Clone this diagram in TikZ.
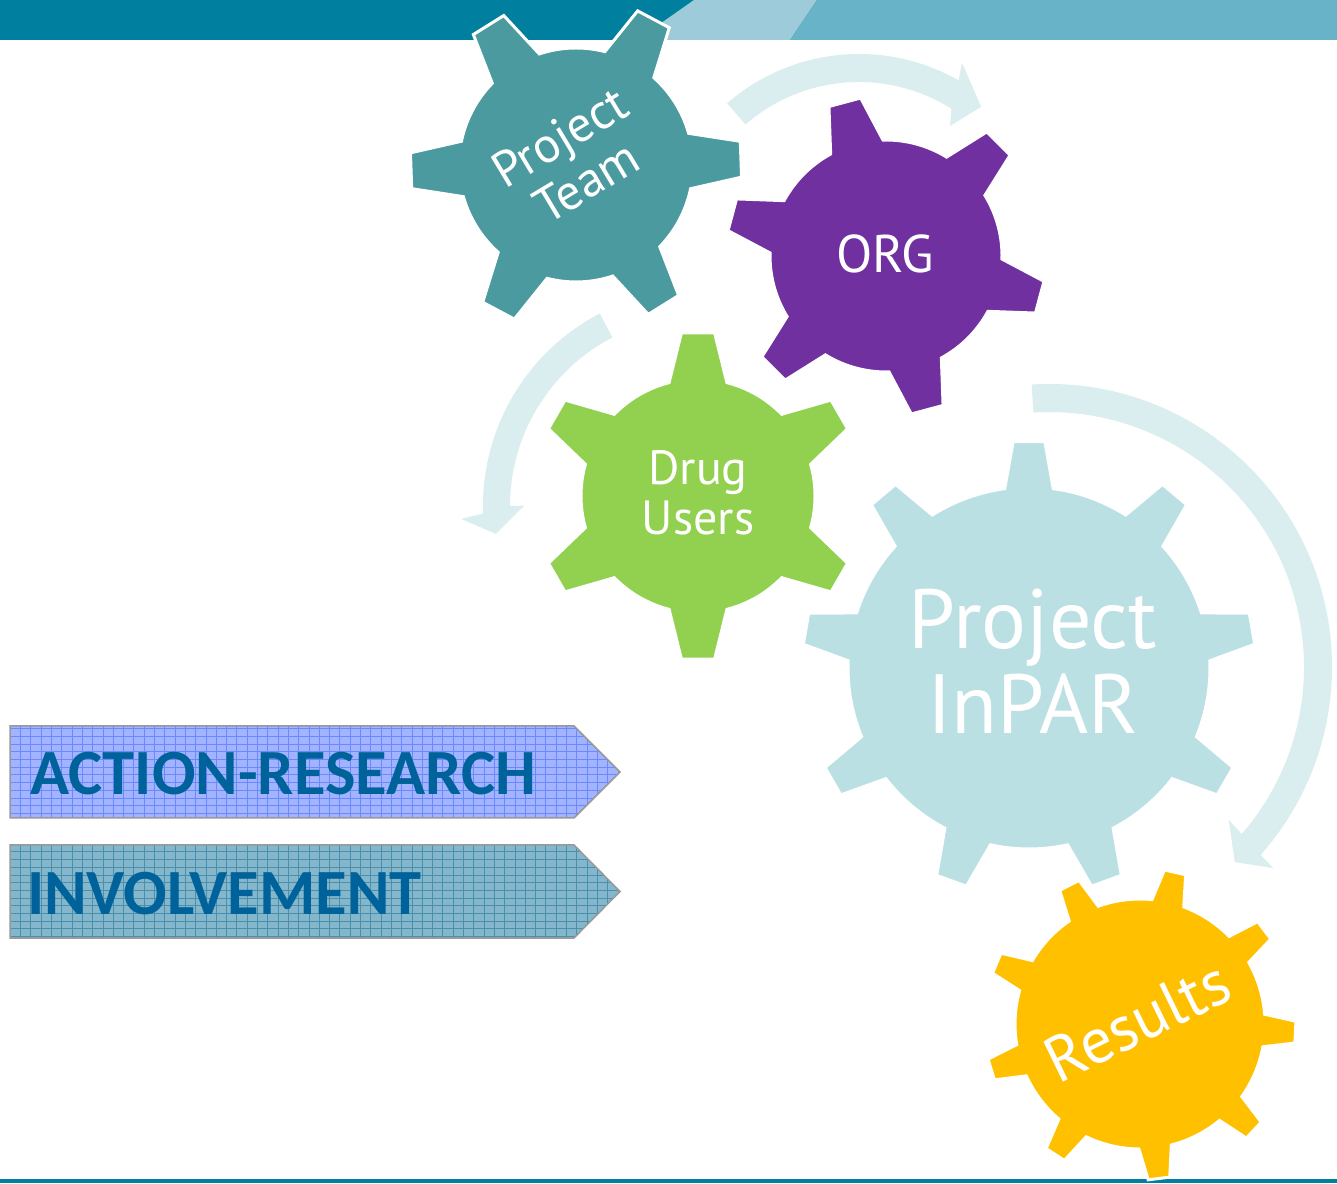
\documentclass[tikz,border=0pt]{standalone}
\usepackage{fontspec}
\setmainfont{Carlito}
\newfontfamily\gearfont{PT Sans}

\definecolor{barDark}{HTML}{017F9F}
\definecolor{barLight}{HTML}{9DCBD9}
\definecolor{barMid}{HTML}{68B3C8}
\definecolor{teamTeal}{HTML}{4A9AA0}
\definecolor{orgPurple}{HTML}{7030A0}
\definecolor{drugGreen}{HTML}{92D050}
\definecolor{inparBlue}{HTML}{BBE0E3}
\definecolor{resYellow}{HTML}{FFC000}
\definecolor{arrowTint}{HTML}{DAEDEF}
\definecolor{labelBlue}{HTML}{00629A}
\definecolor{boxViolet}{HTML}{A2B4FF}
\definecolor{boxVioletLine}{HTML}{6A88FF}
\definecolor{boxTeal}{HTML}{84B7CB}
\definecolor{boxTealLine}{HTML}{4A8FAC}

% gear: center, teeth, phase, root radius, tip radius, base half-angle, tip half-angle, style
\newcommand{\gearshape}[8]{%
  \filldraw[#8, shift={#1}] ({#3-#6}:#4)
    \foreach \k [evaluate=\k as \a using {#3+(\k-1)*360/#2}] in {1,...,#2}{
      -- ({\a-#7}:#5) -- ({\a+#7}:#5) -- ({\a+#6}:#4)
      arc[start angle={\a+#6}, end angle={\a+360/#2-#6}, radius=#4]
    } -- cycle;
}

\tikzset{
  gearbody/.style={draw=white, line width=3, line join=miter},
  cyclearrow/.style={fill=arrowTint},
  gearlabel/.style={text=white, inner sep=0, align=center},
  tagbox/.style={draw=black!40, line width=1.5, line join=miter},
  taglabel/.style={text=labelBlue, inner sep=0, font=\fontsize{64.5}{67}\selectfont\bfseries},
}

\begin{document}
\begin{tikzpicture}[x=1pt, y=1pt]
\useasboundingbox (0,0) rectangle (1337,1183);
\fill[white] (0,0) rectangle (1337,1183);

% header band
\fill[barDark] (0,1143) rectangle (1337,1183);
\fill[barLight] (694,1183) -- (817,1183) -- (790,1143) -- (637,1143) -- cycle;
\fill[barMid] (817,1183) -- (1337,1183) -- (1337,1143) -- (790,1143) -- cycle;
% footer line
\fill[barDark] (0,0) rectangle (1337,4);

% cycle arrows
\begin{scope}[shift={(859,928)}]
  \fill[cyclearrow] (131:201) arc[start angle=131, end angle=60.3, radius=201]
    -- (61.8:218) -- (50.5:192) -- (54.8:158) -- (57.7:173)
    arc[start angle=57.7, end angle=131, radius=173] -- cycle;
\end{scope}
\begin{scope}[shift={(700,677)}]
  \fill[cyclearrow] (117.5:217) arc[start angle=117.5, end angle=182, radius=217]
    -- (183.1:239) -- (187.8:206) -- (180:176) -- (180:190)
    arc[start angle=180, end angle=117.5, radius=190] -- cycle;
\end{scope}
\begin{scope}[shift={(1049,516)}]
  \fill[cyclearrow] (93.5:283) arc[start angle=93.5, end angle=-41.6, radius=283]
    -- (-41.9:301) -- (-46.4:269.5) -- (-40.4:236) -- (-40.9:255)
    arc[start angle=-40.9, end angle=93.5, radius=255] -- cycle;
\end{scope}

% tag arrows with grid texture
\begin{scope}
  \clip (10,457) -- (574,457) -- (620,411) -- (574,365) -- (10,365) -- cycle;
  \fill[boxViolet] (0,360) rectangle (630,460);
  \draw[boxVioletLine, line width=0.9] (10,365) grid[xstep=10.3pt, ystep=7.7pt] (620,457);
\end{scope}
\draw[tagbox] (10,457) -- (574,457) -- (620,411) -- (574,365) -- (10,365) -- cycle;
\node[taglabel, anchor=base west] (action) at (30,388) {ACTION-RESEARCH};

\begin{scope}
  \clip (10,338) -- (574,338) -- (620,291.5) -- (574,245) -- (10,245) -- cycle;
  \fill[boxTeal] (0,240) rectangle (630,340);
  \draw[boxTealLine, line width=0.9] (10,245) grid[xstep=10.3pt, ystep=7.7pt] (620,338);
\end{scope}
\draw[tagbox] (10,338) -- (574,338) -- (620,291.5) -- (574,245) -- (10,245) -- cycle;
\node[taglabel, anchor=base west] (involve) at (27,268) {INVOLVEMENT};

% gears
\gearshape{(576,1018)}{6}{2}{117}{166}{13.7}{6.2}{gearbody, fill=teamTeal}
\gearshape{(886,927)}{6}{-15}{116}{160}{13.5}{5.9}{gearbody, fill=orgPurple}
\gearshape{(698,687)}{6}{30}{117}{164}{14.3}{5.8}{gearbody, fill=drugGreen}
\gearshape{(1029,515)}{9}{10}{181}{227}{7.7}{4}{gearbody, fill=inparBlue}
\gearshape{(1140,159)}{9}{-3}{125}{156}{7.5}{4}{gearbody, fill=resYellow}

% gear labels
\node[gearlabel, rotate=31, font=\gearfont\fontsize{50}{52}\selectfont] (team) at (573,1024) {Project\\Team};
\node[gearlabel, font=\gearfont\fontsize{53}{56}\selectfont] (org) at (885,929.5) {ORG};
\node[gearlabel, font=\gearfont\fontsize{48}{50}\selectfont] (drug) at (698,690) {Drug\\Users};
\node[gearlabel, font=\gearfont\fontsize{84}{85}\selectfont] (inpar) at (1033,521.5) {Project\\InPAR};
\node[gearlabel, rotate=26, anchor=base, font=\gearfont\fontsize{64}{66}\selectfont] (results) at (1147,142) {Results};
\end{tikzpicture}
\end{document}
